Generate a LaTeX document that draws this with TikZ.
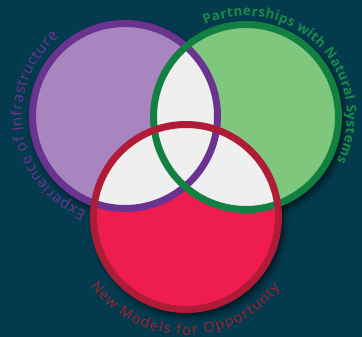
\documentclass[tikz,border=0pt]{standalone}
\usepackage{fontspec}
\setmainfont{Open Sans}
\usetikzlibrary{decorations.text,shadows.blur}
\definecolor{bg}{HTML}{043A4E}
\definecolor{pfill}{HTML}{A885BF}
\definecolor{pline}{HTML}{6B3390}
\definecolor{gfill}{HTML}{80C77E}
\definecolor{gline}{HTML}{128040}
\definecolor{rfill}{HTML}{EE1C4F}
\definecolor{rline}{HTML}{B01C36}
\definecolor{lap}{HTML}{EFEFEF}
\definecolor{ptext}{HTML}{6E3494}
\definecolor{gtext}{HTML}{1A8A48}
\definecolor{rtext}{HTML}{A5222F}
\begin{document}
\begin{tikzpicture}[x=1pt,y=1pt,
  ring/.style={line width=7pt},
  shade/.style={blur shadow={shadow xshift=3pt,shadow yshift=-4pt,shadow blur radius=5pt,shadow opacity=55}}]
\fill[bg] (0,0) rectangle (362,337);
\useasboundingbox (0,0) rectangle (362,337);
\coordinate (pc) at (125,221);
\coordinate (gc) at (246,220);
\coordinate (rc) at (186,120);
\def\R{92.5}
% shadows
\path[shade] (pc) circle[radius=96];
\path[shade] (gc) circle[radius=96];
\path[shade] (rc) circle[radius=96];
% fills
\fill[pfill] (pc) circle[radius=\R];
\fill[gfill] (gc) circle[radius=\R];
\fill[rfill] (rc) circle[radius=\R];
% overlaps
\begin{scope}
  \clip (pc) circle[radius=\R];
  \fill[lap] (gc) circle[radius=\R];
  \fill[lap] (rc) circle[radius=\R];
\end{scope}
\begin{scope}
  \clip (gc) circle[radius=\R];
  \fill[lap] (rc) circle[radius=\R];
\end{scope}
% rings
\draw[ring,pline] (pc) circle[radius=\R];
\draw[ring,gline] (gc) circle[radius=\R];
\draw[ring,rline] (rc) circle[radius=\R];
% labels
\path[decorate,decoration={text along path,text align=fit to path,
  text={|\color{ptext}\fontsize{15}{15}\selectfont|Experience of Infrastructure}}]
  (pc) ++(248:103) arc[start angle=248,end angle=130,radius=103];
\path[decorate,decoration={text along path,text align=fit to path,
  text={|\color{gtext}\bfseries\fontsize{13.5}{14}\selectfont|Partnerships with Natural Systems}}]
  (gc) ++(114:101) arc[start angle=114,end angle=-26,radius=101];
\path[decorate,decoration={text along path,text align=fit to path,
  text={|\color{rtext}\fontsize{14.5}{15}\selectfont|New Models for Opportunty}}]
  (rc) ++(216:118) arc[start angle=216,end angle=323,radius=118];
\end{tikzpicture}
\end{document}
